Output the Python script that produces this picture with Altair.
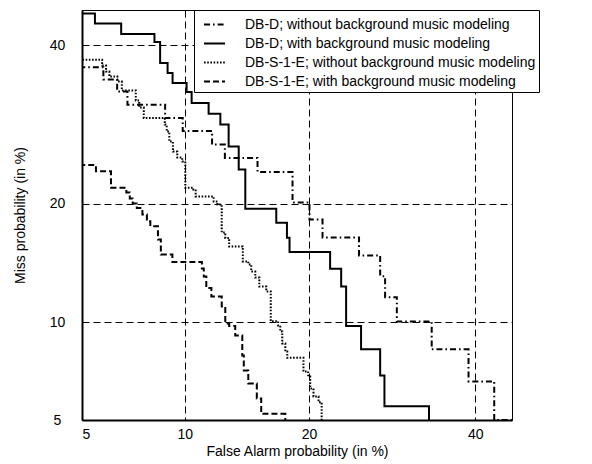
import altair as alt
import pandas as pd
from statistics import NormalDist

series_names = [
    "DB-D; without background music modeling",
    "DB-D; with background music modeling",
    "DB-S-1-E; without background music modeling",
    "DB-S-1-E; with background music modeling",
]

# False alarm (%) at each step, and miss (%) level after the step
fa_dbd_without = [4.9, 5.83, 6.42, 6.89, 8.84, 9.88, 11.81, 12.73, 15.30, 18.41, 20.05, 21.37,
                  25.32, 27.77, 28.36, 29.78, 34.19, 39.09, 42.62, 46.0]
miss_dbd_without = [36.85, 35.15, 33.51, 31.76, 30.0, 28.36, 26.68, 25.08, 23.44, 20.12, 18.38, 16.67,
                    15.06, 13.33, 11.72, 10.04, 8.34, 6.66, 5.0, 5.0]

fa_dbd_with = [4.9, 5.49, 6.60, 8.25, 8.56, 8.98, 9.27, 10.12, 10.44, 11.57, 12.40, 13.01, 13.78,
               14.30, 16.92, 17.89, 18.13, 22.16, 23.34, 23.88, 25.55, 27.77, 28.28, 33.84]
miss_dbd_with = [44.6, 43.11, 41.61, 40.45, 37.47, 36.07, 34.69, 33.44, 31.99, 30.58, 29.17, 26.44,
                 23.72, 19.47, 18.06, 16.64, 15.35, 13.93, 12.52, 9.75, 8.34, 6.95, 5.55, 4.5]

fa_dbs_without = [4.9, 5.78, 5.94, 6.08, 6.43, 6.63, 7.29, 7.46, 7.69, 8.82, 8.93, 9.08, 9.29, 9.55,
                  9.85, 10.04, 10.55, 10.70, 11.92, 12.19, 12.50, 12.76, 13.05, 14.10, 14.54, 14.78,
                  15.11, 15.45, 16.04, 16.43, 17.09, 17.28, 17.46, 17.74, 17.92, 19.46, 19.92, 20.12,
                  20.45, 20.96, 21.28]
miss_dbs_without = [37.93, 37.09, 36.25, 35.56, 34.87, 33.65, 32.30, 31.37, 30.03, 29.17, 28.29, 27.05,
                    25.83, 25.12, 24.65, 21.68, 21.49, 20.75, 20.22, 19.91, 17.13, 16.62, 15.85, 14.54,
                    14.29, 13.70, 13.22, 12.52, 12.15, 10.06, 9.78, 9.40, 8.68, 8.22, 7.87, 7.15, 6.90,
                    6.33, 5.97, 5.72, 4.5]

fa_dbs_with = [4.9, 5.53, 6.15, 6.84, 7.00, 7.14, 7.34, 7.62, 7.85, 8.03, 8.44, 8.60, 9.26, 11.11,
               11.24, 11.41, 11.76, 12.50, 12.76, 13.05, 13.51, 14.06, 14.18, 14.54, 15.24, 15.61, 17.74]
miss_dbs_with = [24.24, 23.53, 21.68, 21.17, 20.54, 20.01, 19.55, 18.89, 18.22, 17.74, 16.49, 15.14,
                 14.50, 13.95, 13.30, 12.41, 11.78, 11.06, 9.91, 9.75, 9.16, 8.0, 7.20, 6.56, 5.88,
                 5.24, 4.5]

tick_pct = [5, 10, 20, 40]
axis_min_pct = 5.0
axis_max_pct = 45.1

series_fa = [fa_dbd_without, fa_dbd_with, fa_dbs_without, fa_dbs_with]
series_miss = [miss_dbd_without, miss_dbd_with, miss_dbs_without, miss_dbs_with]

rows = []
for name, fas, misses in zip(series_names, series_fa, series_miss):
    for i, (f, m) in enumerate(zip(fas, misses)):
        rows.append({"series": name, "fa": f, "miss": m, "idx": i})
df = pd.DataFrame(rows)

nd = NormalDist()
def probit(p):
    return nd.inv_cdf(p / 100.0)

tick_z = [probit(p) for p in tick_pct]
dom = [probit(axis_min_pct), probit(axis_max_pct)]
label_expr = "format(round(cumulativeNormal(datum.value) * 100), 'd')"

dash_range = [[6, 3, 1.6, 3], [1, 0], [1.6, 1.6], [6, 3]]

chart = alt.Chart(df).transform_calculate(
    zx="quantileNormal(datum.fa / 100)",
    zy="quantileNormal(datum.miss / 100)",
).mark_line(interpolate="step-after", clip=True, color="black", strokeWidth=2).encode(
    x=alt.X("zx:Q",
            scale=alt.Scale(domain=dom, nice=False, zero=False),
            axis=alt.Axis(values=tick_z, labelExpr=label_expr,
                          title="False Alarm probability (in %)",
                          labelPadding=7, titlePadding=3)),
    y=alt.Y("zy:Q",
            scale=alt.Scale(domain=dom, nice=False, zero=False),
            axis=alt.Axis(values=tick_z, labelExpr=label_expr,
                          title="Miss probability (in %)",
                          labelAlign="center", labelPadding=25, titlePadding=22)),
    strokeDash=alt.StrokeDash("series:N",
                              scale=alt.Scale(domain=series_names, range=dash_range),
                              legend=alt.Legend(title=None, orient="none", legendX=112, legendY=0,
                                                symbolType="stroke", symbolSize=441,
                                                symbolStrokeWidth=2, symbolStrokeColor="black",
                                                symbolOffset=6, labelOffset=19,
                                                labelFontSize=14, labelLimit=600,
                                                labelColor="black", labelFont="Liberation Sans",
                                                padding=3, rowPadding=-1.7,
                                                strokeColor="black", fillColor="white")),
    order="idx:Q",
).properties(
    width=430, height=410,
    padding={"left": 74, "top": 2, "right": 72, "bottom": 44},
    autosize=alt.AutoSizeParams(type="none"),
).configure_view(
    stroke="black", strokeWidth=1
).configure_axis(
    grid=True, gridColor="black", gridDash=[7, 4], gridWidth=1, gridOpacity=1,
    ticks=False, tickSize=0,
    domainColor="black", domainWidth=2,
    labelFont="Liberation Sans", labelFontSize=14, labelColor="black",
    titleFont="Liberation Sans", titleFontSize=14, titleFontWeight="normal", titleColor="black",
)

chart.save("out.html", embed_options={"renderer": "svg", "actions": False})
